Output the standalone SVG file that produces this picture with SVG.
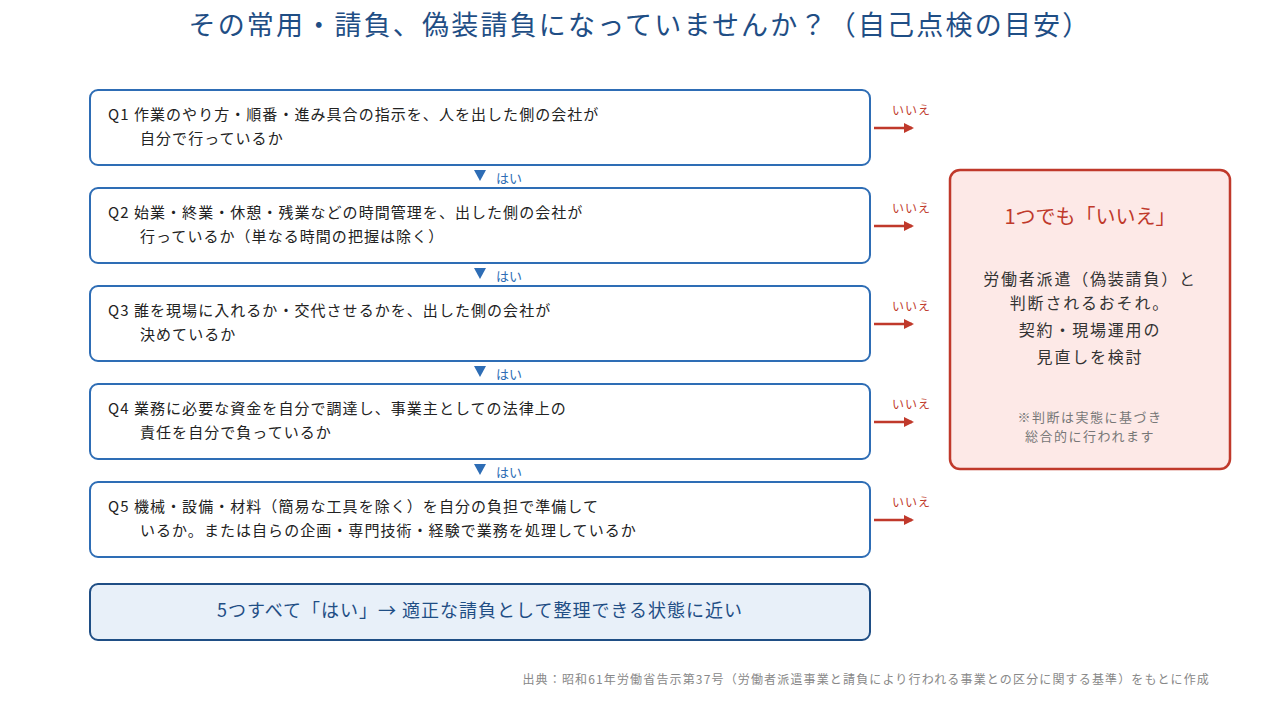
<svg xmlns="http://www.w3.org/2000/svg" width="1280" height="720" viewBox="0 0 1280 720">
<style>
text{font-family:"Noto Sans CJK JP","Noto Sans",sans-serif}
.q{fill:#fff;stroke:#2e6db5;stroke-width:2}
.qt{font-size:15px;fill:#222;letter-spacing:1.05px}
.hai{font-size:13px;fill:#2e6db5}
.iie{font-size:12px;fill:#c0392b;letter-spacing:1px}
.red{stroke:#c0392b;stroke-width:2.5;fill:none}
</style>
<defs>
<marker id="ah" markerWidth="10" markerHeight="10" refX="8" refY="5" orient="auto" markerUnits="userSpaceOnUse">
<path d="M0,0 L10,5 L0,10 Z" fill="#c0392b"/>
</marker>
</defs>
<rect width="1280" height="720" fill="#fff"/>
<text x="640" y="35" text-anchor="middle" font-size="27" letter-spacing="2.2" fill="#1f4e85">その常用・請負、偽装請負になっていませんか？（自己点検の目安）</text>

<g id="q1"><rect class="q" x="90" y="90" width="780" height="75" rx="8"/>
<text class="qt" x="108" y="120">Q1 作業のやり方・順番・進み具合の指示を、人を出した側の会社が</text>
<text class="qt" x="140" y="144">自分で行っているか</text></g>
<g id="q2"><rect class="q" x="90" y="188" width="780" height="75" rx="8"/>
<text class="qt" x="108" y="218">Q2 始業・終業・休憩・残業などの時間管理を、出した側の会社が</text>
<text class="qt" x="140" y="242">行っているか（単なる時間の把握は除く）</text></g>
<g id="q3"><rect class="q" x="90" y="286" width="780" height="75" rx="8"/>
<text class="qt" x="108" y="316">Q3 誰を現場に入れるか・交代させるかを、出した側の会社が</text>
<text class="qt" x="140" y="340">決めているか</text></g>
<g id="q4"><rect class="q" x="90" y="384" width="780" height="75" rx="8"/>
<text class="qt" x="108" y="414">Q4 業務に必要な資金を自分で調達し、事業主としての法律上の</text>
<text class="qt" x="140" y="438">責任を自分で負っているか</text></g>
<g id="q5"><rect class="q" x="90" y="482" width="780" height="75" rx="8"/>
<text class="qt" x="108" y="512">Q5 機械・設備・材料（簡易な工具を除く）を自分の負担で準備して</text>
<text class="qt" x="140" y="536">いるか。または自らの企画・専門技術・経験で業務を処理しているか</text></g>

<g id="result-ok"><rect x="90" y="584" width="780" height="56" rx="8" fill="#e8f0f9" stroke="#1f4e85" stroke-width="2"/>
<text x="480" y="617" text-anchor="middle" font-size="18" letter-spacing="1" fill="#1f4e85">5つすべて「はい」→ 適正な請負として整理できる状態に近い</text></g>

<g id="result-ng"><rect x="950" y="170" width="280" height="299" rx="10" fill="#fde9e7" stroke="#c0392b" stroke-width="2.5"/>
<text x="1090" y="224" text-anchor="middle" font-size="20" fill="#c0392b">1つでも「いいえ」</text>
<g font-size="16" fill="#333" text-anchor="middle" letter-spacing="1.8">
<text x="1090" y="285">労働者派遣（偽装請負）と</text>
<text x="1090" y="309">判断されるおそれ。</text>
<text x="1090" y="336">契約・現場運用の</text>
<text x="1090" y="363">見直しを検討</text>
</g>
<g font-size="13" fill="#777" text-anchor="middle" letter-spacing="1.5">
<text x="1090" y="422">※判断は実態に基づき</text>
<text x="1090" y="441">総合的に行われます</text>
</g></g>

<g id="connectors">
<g fill="#2e6db5">
<path d="M474,170 L486,170 L480,181 Z"/>
<path d="M474,268 L486,268 L480,279 Z"/>
<path d="M474,366 L486,366 L480,377 Z"/>
<path d="M474,464 L486,464 L480,475 Z"/>
</g>
<text class="hai" x="496" y="183">はい</text>
<text class="hai" x="496" y="281">はい</text>
<text class="hai" x="496" y="379">はい</text>
<text class="hai" x="496" y="477">はい</text>
<line class="red" x1="874" y1="128" x2="912" y2="128" marker-end="url(#ah)"/>
<line class="red" x1="874" y1="226" x2="912" y2="226" marker-end="url(#ah)"/>
<line class="red" x1="874" y1="324" x2="912" y2="324" marker-end="url(#ah)"/>
<line class="red" x1="874" y1="422" x2="912" y2="422" marker-end="url(#ah)"/>
<line class="red" x1="874" y1="520" x2="912" y2="520" marker-end="url(#ah)"/>
<text class="iie" x="892" y="115">いいえ</text>
<text class="iie" x="892" y="213">いいえ</text>
<text class="iie" x="892" y="311">いいえ</text>
<text class="iie" x="892" y="409">いいえ</text>
<text class="iie" x="892" y="507">いいえ</text>
</g>

<text x="1210" y="684" text-anchor="end" font-size="12" letter-spacing="1.15" fill="#888">出典：昭和61年労働省告示第37号（労働者派遣事業と請負により行われる事業との区分に関する基準）をもとに作成</text>
</svg>
